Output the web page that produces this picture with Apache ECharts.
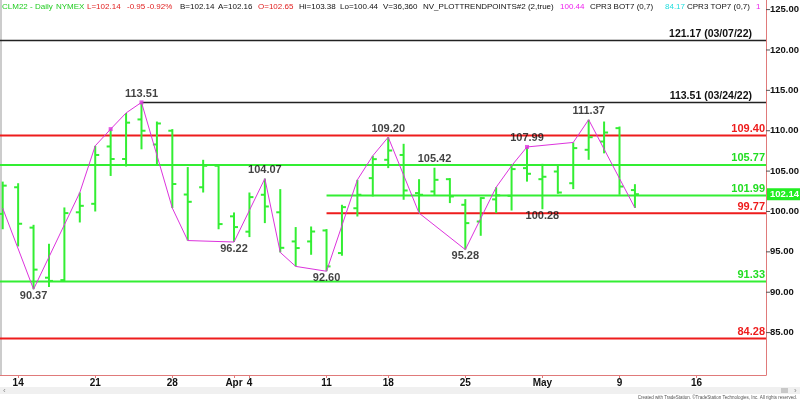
<!DOCTYPE html>
<html><head><meta charset="utf-8">
<script src="https://cdn.jsdelivr.net/npm/echarts@6/dist/echarts.min.js"></script>
<style>html,body{margin:0;padding:0;background:#fff;overflow:hidden}#c{width:800px;height:401px}</style>
</head><body><div id="c"></div>
<script>
// ---------- data ----------
const categories = ['03/11','03/14','03/15','03/16','03/17','03/18','03/21','03/22','03/23','03/24','03/25',
  '03/28','03/29','03/30','03/31','04/01','04/04','04/05','04/06','04/07','04/08','04/11','04/12','04/13','04/14',
  '04/18','04/19','04/20','04/21','04/22','04/25','04/26','04/27','04/28','04/29','05/02','05/03','05/04','05/05','05/06',
  '05/09','05/10','05/11','05/12','05/13','05/16','05/17','05/18','05/19','05/20'];
const opens  = [99.7,103.0,98.0,91.8,91.5,99.9,100.95,108.05,106.5,111.4,108.3,110.0,102.1,103.0,105.66,99.4,97.5,102.07,99.9,96.29,96.29,97.65,94.85,100.4,104.13,106.4,107.0,102.28,102.48,104.0,100.83,98.76,101.5,101.94,105.37,104.0,104.95,103.5,107.64,108.66,110.32,102.65];
const highs  = [103.7,103.5,98.35,96.0,100.5,102.35,108.13,110.2,112.2,113.51,111.14,110.2,105.5,106.4,105.78,99.88,102.35,104.07,102.77,98.07,98.14,97.82,100.83,103.92,106.9,109.2,108.38,104.0,105.42,104.13,101.53,101.78,103.0,105.66,107.99,105.9,105.66,108.55,111.37,111.14,110.52,103.38];
const lows   = [97.8,95.67,90.37,90.65,91.3,98.64,100.0,104.4,105.57,107.7,105.78,100.42,96.4,102.35,97.8,96.22,96.83,98.56,94.93,93.2,94.64,92.6,94.52,99.38,101.86,105.37,101.45,99.8,101.94,101.04,95.28,96.99,99.8,100.12,103.7,100.28,102.19,102.77,106.4,107.2,102.07,100.44];
const closes = [103.2,98.48,92.8,91.4,99.8,100.7,107.0,106.5,111.0,110.0,110.9,103.4,101.2,105.66,98.44,98.07,101.78,100.62,95.5,95.47,97.52,93.2,100.54,102.07,106.48,107.55,102.6,102.07,103.92,101.86,98.56,101.66,102.0,105.25,104.67,104.3,102.35,107.85,109.2,109.78,103.09,102.14];

const tickDates  = ['03/14','03/21','03/28','04/01','04/04','04/11','04/18','04/25','05/02','05/09','05/16'];
const tickLabels = ['14','21','28','Apr','4','11','18','25','May','9','16'];
const yTicks = [85,90,95,100,105,110,115,120,125];

const trendDates  = ['03/11','03/15','03/18','03/21','03/22','03/23','03/24','03/28','03/29','04/01','04/05','04/06','04/07','04/11','04/13','04/14','04/18','04/20','04/25','04/27','04/28','04/29','05/04','05/05','05/10'];
const trendValues = [100.4,90.37,102.35,108.13,110.2,112.2,113.51,100.42,96.4,96.22,104.07,94.93,93.2,92.6,103.92,106.9,109.2,99.8,95.28,103.0,105.66,107.99,108.55,111.37,100.44];
const trendDotDates  = ['03/22','03/24','04/29'];
const trendDotValues = [110.2,113.51,107.99];

const pivotDates  = ['03/15','03/24','04/01','04/05','04/11','04/18','04/21','04/25','04/29','05/02','05/05'];
const pivotValues = [90.37,113.51,96.22,104.07,92.60,109.20,105.42,95.28,107.99,100.28,111.37];
const pivotSides  = ['bottom','top','bottom','top','bottom','top','top','bottom','top','bottom','top'];

const levelValues = [121.17,113.51,109.40,105.77,101.99,99.77,91.33,84.28];
const levelTexts  = ['121.17 (03/07/22)','113.51 (03/24/22)','109.40','105.77','101.99','99.77','91.33','84.28'];
const levelStarts = [null,'03/24',null,null,'04/11','04/11',null,null];
const levelKinds  = ['black','black','red','green','green','red','green','red'];

const lastPrice = 102.14;

const headerTexts  = ['CLM22 - Daily','NYMEX','L=102.14','-0.95','-0.92%','B=102.14','A=102.16','O=102.65','Hi=103.38','Lo=100.44','V=36,360','NV_PLOTTRENDPOINTS#2 (2,true)','100.44','CPR3 BOT7 (0,7)','84.17','CPR3 TOP7 (0,7)','1'];
const headerColors = ['g','g','r','r','r','k','k','r','k','k','k','k','m','k','c','k','m'];
const headerX      = [2,56,87,127,147,180,218,258,299,340,383,423,560,590,665,687,756];

// ---------- styles ----------
const FONT = 'Arial, "Liberation Sans", sans-serif';
const BAR_GREEN = '#33ee33';
const LINE_GREEN = '#33ee33';
const TEXT_GREEN = '#22dd22';
const RED = '#ee1c1c';
const PINK = '#dd33dd';
const AXIS_PINK = '#e07a7a';
const palette = {g:'#22cc22', r:'#e02020', k:'#111', m:'#ee22ee', c:'#22dddd'};
const levelColor = {black:'#222', red:RED, green:LINE_GREEN};
const levelTextColor = {black:'#111', red:RED, green:TEXT_GREEN};

const idx = d => categories.indexOf(d);
const tickSet = new Set(tickDates.map(idx));
const labelMap = {};
tickDates.forEach((d,i)=>labelMap[d]=tickLabels[i]);

const ohlc = opens.map((o,i)=>[i,o,highs[i],lows[i],closes[i]]);

const chart = echarts.init(document.getElementById('c'), null, {renderer:'canvas', width:800, height:401});
chart.setOption({
  animation:false,
  backgroundColor:'#fff',
  grid:{left:-5, right:34, top:0, bottom:26, containLabel:false, outerBoundsMode:'none'},
  xAxis:{type:'category', data:categories, boundaryGap:true,
    axisLine:{show:true, lineStyle:{color:AXIS_PINK, width:1}},
    axisTick:{show:true, alignWithLabel:true, length:3, interval:(i)=>tickSet.has(i), lineStyle:{color:AXIS_PINK}},
    axisLabel:{interval:(i)=>tickSet.has(i), formatter:(v)=>labelMap[v]||'', color:'#111', fontWeight:'bold', fontSize:10, fontFamily:FONT, margin:3},
    splitLine:{show:false}},
  yAxis:{type:'value', position:'right', min:79.75, max:126.19, scale:true,
    axisLine:{show:true, lineStyle:{color:AXIS_PINK, width:1}},
    axisTick:{show:false},
    axisLabel:{show:false},
    splitLine:{show:false}},
  series:[
    { // y-axis tick marks and labels, placed through the value scale
      type:'custom', clip:false, z:10, zlevel:1, silent:true,
      data: yTicks.map(v=>[0, v]),
      encode:{x:0,y:1},
      renderItem:function(params, api){
        const cs = params.coordSys;
        const xa = cs.x + cs.width;
        let y = api.coord([0, api.value(1)])[1];
        if (y < 8) y = 8;   // keep the topmost label fully on the canvas
        return {type:'group', children:[
          {type:'line', shape:{x1:xa, y1:y, x2:xa+4, y2:y}, style:{stroke:'#555', lineWidth:1}},
          {type:'text', style:{text:api.value(1).toFixed(2), x:xa+4, y:y, verticalAlign:'middle', fill:'#111', font:'bold 9.5px '+FONT}}
        ]};
      }
    },
    { // level lines
      type:'custom', clip:false, z:2,
      data: levelValues.map((v,i)=>[levelStarts[i]===null?0:idx(levelStarts[i]), v, levelStarts[i]===null?1:0]),
      encode:{x:0,y:1},
      renderItem:function(params, api){
        const cs = params.coordSys;
        const i = params.dataIndex;
        const p = api.coord([api.value(0), api.value(1)]);
        const x1 = api.value(2) ? cs.x : p[0];
        const x2 = cs.x + cs.width;
        const kind = levelKinds[i];
        const black = kind==='black';
        return {type:'group', children:[
          {type:'line', shape:{x1:x1,y1:p[1],x2:x2,y2:p[1]}, style:{stroke:levelColor[kind], lineWidth:black?1.5:2}},
          {type:'text', style:{text:levelTexts[i], x: black? x2-14 : x2-1, y:p[1]-1, align:'right', verticalAlign:'bottom',
            fill:levelTextColor[kind], font:(black?'bold 10.5px ':'bold 11px ')+FONT}}
        ]};
      }
    },
    { // OHLC bars
      type:'custom', z:3,
      data: ohlc,
      encode:{x:0, y:[1,2,3,4]},
      renderItem:function(params, api){
        const i = api.value(0);
        const pO = api.coord([i, api.value(1)]);
        const pH = api.coord([i, api.value(2)]);
        const pL = api.coord([i, api.value(3)]);
        const pC = api.coord([i, api.value(4)]);
        const x = pH[0];
        const st = {stroke:BAR_GREEN, lineWidth:2};
        return {type:'group', children:[
          {type:'line', shape:{x1:x,y1:pH[1],x2:x,y2:pL[1]}, style:st},
          {type:'line', shape:{x1:x-4,y1:pO[1],x2:x,y2:pO[1]}, style:st},
          {type:'line', shape:{x1:x,y1:pC[1],x2:x+4,y2:pC[1]}, style:st}
        ]};
      }
    },
    { // trend line
      type:'line', z:4, symbol:'none',
      data: trendDates.map((d,i)=>[d, trendValues[i]]),
      lineStyle:{color:PINK, width:1}
    },
    { // trend dots
      type:'scatter', z:5, symbol:'rect', symbolSize:4,
      data: trendDotDates.map((d,i)=>[d, trendDotValues[i]]),
      itemStyle:{color:PINK}
    },
    { // pivot labels
      type:'scatter', z:6, symbolSize:0,
      data: pivotDates.map((d,i)=>({value:[d, pivotValues[i]],
        label:{position:pivotSides[i], distance: pivotSides[i]==='top'?3:1}})),
      label:{show:true, formatter:(p)=>p.value[1].toFixed(2), color:'#111', fontWeight:'bold', fontSize:11, fontFamily:FONT},
      itemStyle:{color:'transparent'}
    },
    { // last price box on axis
      type:'custom', clip:false, z:7,
      data:[[opens.length-1, lastPrice]],
      encode:{x:0,y:1},
      renderItem:function(params, api){
        const cs = params.coordSys;
        const p = api.coord([api.value(0), api.value(1)]);
        const x0 = cs.x + cs.width + 1;
        return {type:'group', children:[
          {type:'rect', shape:{x:x0, y:p[1]-6, width:34, height:12}, style:{fill:'#22ee22'}},
          {type:'text', style:{text:api.value(1).toFixed(2), x:x0+3, y:p[1], verticalAlign:'middle', fill:'#fff', font:'bold 9.5px '+FONT}}
        ]};
      }
    }
  ],
  graphic:[
    {type:'line', shape:{x1:1,y1:0,x2:1,y2:375}, style:{stroke:'#999', lineWidth:1}},
    ...headerTexts.map((t,i)=>({type:'text', x:headerX[i], y:7, style:{text:t, fill:palette[headerColors[i]], font:'8px '+FONT, verticalAlign:'middle'}})),
    {type:'rect', shape:{x:0,y:387,width:800,height:7}, style:{fill:'#f0f0f0'}},
    {type:'rect', shape:{x:781,y:388,width:7,height:5}, style:{fill:'#c8c8c8'}},
    {type:'text', x:3, y:390.5, style:{text:'‹', fill:'#888', font:'8px '+FONT, verticalAlign:'middle'}},
    {type:'text', x:794, y:390.5, style:{text:'›', fill:'#888', font:'8px '+FONT, verticalAlign:'middle'}},
    {type:'text', x:797, y:398, style:{text:'Created with TradeStation. ©TradeStation Technologies, Inc. All rights reserved.', fill:'#555', font:'4.5px '+FONT, align:'right', verticalAlign:'middle'}}
  ]
});
</script></body></html>
